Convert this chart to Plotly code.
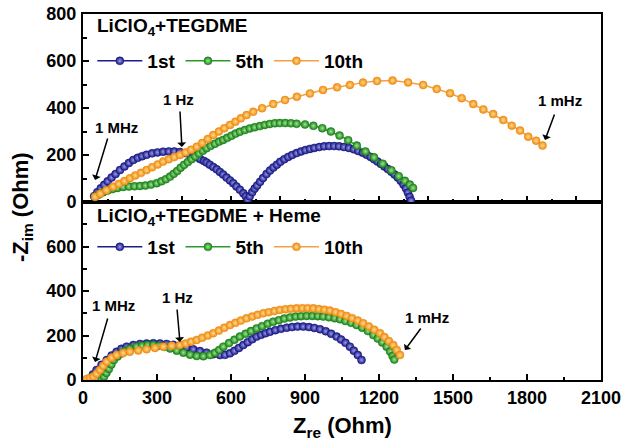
import plotly.graph_objects as go

# ---------------- data ----------------
series_names = ["1st", "5th", "10th"]

# top panel: LiClO4 + TEGDME
top_1st_x = [45, 58, 72, 86, 100, 116, 132, 150, 168, 186, 204, 222, 240, 258, 280, 302, 325, 348, 370, 393,
             415, 432, 447, 462, 476, 490, 501, 514, 528, 542, 555, 568, 582, 596, 609, 622, 636, 650, 660, 668,
             676, 686, 696, 706, 718, 730, 744, 758, 772, 786, 800, 816, 832, 848, 866, 884, 902, 920, 938, 958,
             978, 998, 1018, 1038, 1058, 1078, 1098, 1116, 1134, 1150, 1166, 1180, 1194, 1208, 1222, 1236, 1250,
             1263, 1276, 1288, 1299, 1309, 1317, 1324, 1330]
top_1st_y = [25, 42, 58, 73, 88, 104, 119, 136, 151, 166, 179, 188, 195, 201, 207, 211, 214, 215, 215, 213,
             208, 203, 197, 190, 182, 175, 168, 159, 149, 139, 128, 117, 104, 92, 80, 66, 52, 37, 24, 10,
             24, 42, 57, 70, 86, 102, 119, 134, 147, 159, 171, 182, 192, 200, 208, 215, 221, 226, 230, 234,
             237, 238, 238, 237, 234, 230, 224, 217, 210, 201, 192, 182, 172, 162, 151, 140, 129,
             117, 104, 90, 75, 58, 40, 22, 6]

top_5th_x = [49, 65, 82, 100, 120, 140, 163, 186, 209, 231, 253, 276, 299, 318, 336, 353, 368, 382, 396, 410,
             425, 440, 455, 470, 486, 501, 518, 535, 552, 568, 585, 602, 619, 636, 656, 676, 696, 717, 737, 757,
             778, 798, 820, 843, 866, 900, 934, 970, 1005, 1040, 1075, 1110, 1145, 1180, 1215, 1250, 1280, 1305,
             1325, 1338]
top_5th_y = [22, 32, 42, 49, 55, 60, 64, 66, 67, 68, 70, 74, 80, 88, 97, 108, 120, 132, 146, 158,
             170, 182, 194, 206, 218, 229, 239, 248, 257, 264, 273, 282, 291, 299, 306, 313, 318, 323, 328, 332,
             335, 336, 336, 335, 333, 330, 324, 314, 300, 283, 263, 240, 215, 190, 163, 135, 110, 90,
             74, 60]

top_10th_x = [49, 70, 95, 122, 145, 168, 190, 212, 235, 258, 280, 303, 325, 348, 370, 393, 416, 438, 461, 483,
              506, 528, 551, 573, 596, 618, 640, 663, 690, 726, 771, 819, 867, 920, 973, 1030, 1082, 1135, 1192,
              1255, 1318, 1379, 1434, 1488, 1535, 1582, 1623, 1663, 1704, 1738, 1772, 1805, 1837, 1863]
top_10th_y = [22, 35, 50, 65, 77, 89, 101, 113, 124, 136, 148, 160, 172, 182, 191, 200, 211, 222, 235, 251,
              268, 285, 300, 314, 328, 342, 356, 370, 384, 399, 417, 434, 448, 462, 477, 488, 498, 508, 515,
              517, 509, 498, 481, 463, 442, 417, 394, 374, 349, 325, 304, 278, 261, 240]

# bottom panel: LiClO4 + TEGDME + Heme
bot_1st_x = [28, 40, 55, 75, 96, 116, 136, 156, 177, 204, 231, 258, 285, 312, 339, 366, 393, 420, 447, 474,
             501, 528, 555, 576, 596, 614, 632, 650, 668, 686, 704, 722, 740, 758, 780, 803, 826, 848, 870, 893,
             916, 938, 961, 984, 1006, 1028, 1046, 1064, 1082, 1098, 1114, 1129]
bot_1st_y = [7, 25, 45, 68, 90, 110, 127, 140, 150, 157, 162, 164, 165, 164, 162, 158, 153, 146, 138, 130,
             123, 116, 112, 113, 120, 131, 144, 157, 170, 183, 195, 203, 210, 217, 224, 230, 235, 238, 240, 240,
             238, 234, 228, 219, 208, 195, 182, 167, 150, 132, 112, 90]

bot_5th_x = [75, 85, 95, 105, 115, 125, 140, 155, 170, 190, 217, 240, 262, 285, 308, 330, 353, 380, 407, 434,
             461, 488, 515, 535, 552, 569, 592, 614, 636, 659, 681, 704, 726, 749, 771, 794, 816, 839, 862, 884,
             907, 930, 952, 974, 997, 1020, 1042, 1064, 1087, 1109, 1132, 1155, 1177, 1195, 1213, 1231, 1245,
             1255, 1262]
bot_5th_y = [2, 15, 32, 50, 70, 90, 106, 119, 130, 140, 150, 154, 157, 157, 154, 149, 142, 132, 123, 114,
             108, 107, 112, 122, 135, 150, 166, 181, 195, 208, 220, 232, 242, 253, 262, 269, 276, 281, 285, 287,
             288, 288, 287, 285, 282, 278, 273, 265, 257, 247, 235, 220, 202, 186, 169, 150, 128,
             108, 92]

bot_10th_x = [15, 28, 42, 55, 69, 82, 96, 116, 136, 163, 190, 224, 258, 292, 326, 360, 393, 416, 438, 461,
              483, 506, 528, 551, 573, 596, 618, 640, 663, 686, 708, 731, 753, 776, 798, 821, 843, 866, 889, 911,
              934, 956, 979, 1001, 1024, 1046, 1069, 1091, 1114, 1136, 1159, 1181, 1204, 1222, 1240, 1258, 1272,
              1285]
bot_10th_y = [5, 9, 15, 28, 45, 64, 82, 100, 112, 121, 127, 133, 138, 144, 150, 154, 157, 164, 172, 180,
              190, 200, 210, 222, 235, 247, 257, 267, 277, 285, 293, 300, 305, 310, 315, 318, 320, 322, 323, 323,
              322, 319, 316, 312, 305, 297, 288, 278, 267, 255, 241, 226, 210, 193, 175, 157, 135,
              112]

x_ticks_bottom = [0, 300, 600, 900, 1200, 1500, 1800, 2100]
y_ticks_top = [0, 200, 400, 600, 800]
y_ticks_bottom = [0, 200, 400, 600]

# ---------------- style ----------------
FONT = "Arial, Liberation Sans, sans-serif"
edge_cols = ["#16167e", "#1a7f1a", "#ee8a12"]
center_cols = ["#9c9cf0", "#9ee88e", "#ffdc8c"]
line_cols = ["#1c1c8c", "#2a9a2a", "#f5a045"]

fig = go.Figure()

top_data = [(top_1st_x, top_1st_y), (top_5th_x, top_5th_y), (top_10th_x, top_10th_y)]
bot_data = [(bot_1st_x, bot_1st_y), (bot_5th_x, bot_5th_y), (bot_10th_x, bot_10th_y)]

def add_series(xs, ys, i, xa, ya, leg):
    fig.add_trace(go.Scatter(
        x=xs, y=ys, xaxis=xa, yaxis=ya, mode="lines+markers", name=series_names[i],
        legend=leg,
        line=dict(color=line_cols[i], width=1.5),
        marker=dict(size=8, color=edge_cols[i], line=dict(width=0.5, color=edge_cols[i]),
                    gradient=dict(type="radial", color=center_cols[i])),
    ))

for i, (xs, ys) in enumerate(top_data):
    add_series(xs, ys, i, "x2", "y2", "legend")
for i, (xs, ys) in enumerate(bot_data):
    add_series(xs, ys, i, "x", "y", "legend2")

PH = 366.0            # plot-area height in px (window rows 14..380)
split = 178 / PH

def py(v):            # window pixel row -> paper y
    return (380 - v) / PH

axis_common = dict(showline=True, linewidth=2, linecolor="black", mirror=True, ticks="inside",
                   ticklen=6, tickwidth=1.5, tickcolor="black", showgrid=False, zeroline=False,
                   automargin=False, ticklabeloverflow="allow",
                   tickfont=dict(family=FONT, size=18, color="black", weight="bold"))

fig.update_layout(
    width=627, height=448,
    margin=dict(l=83, r=26, t=14, b=68, autoexpand=False),
    paper_bgcolor="white", plot_bgcolor="white",
    font=dict(family=FONT, color="black"),
    showlegend=True,
    xaxis=dict(domain=[0, 1], range=[0, 2100], anchor="y", tickmode="array", tickvals=x_ticks_bottom,
               minor=dict(tickvals=[150, 450, 750, 1050, 1350, 1650, 1950], ticks="inside", ticklen=3.5,
                          tickwidth=1.5, tickcolor="black"),
               **axis_common),
    xaxis2=dict(domain=[0, 1], range=[0, 2100], anchor="y2", matches="x", dtick=200, tick0=0,
                showticklabels=False,
                minor=dict(dtick=100, ticks="inside", ticklen=3.5, tickwidth=1.5, tickcolor="black"),
                **axis_common),
    yaxis=dict(domain=[0, split], range=[0, 800], anchor="x", tickmode="array", tickvals=y_ticks_bottom,
               minor=dict(tickvals=[100, 300, 500, 700], ticks="inside", ticklen=3.5, tickwidth=1.5,
                          tickcolor="black"),
               ticklabelstandoff=1,
               **axis_common),
    yaxis2=dict(domain=[split, 1], range=[0, 800], anchor="x2", tickmode="array", tickvals=y_ticks_top,
                minor=dict(dtick=100, ticks="inside", ticklen=3.5, tickwidth=1.5, tickcolor="black"),
                ticklabelstandoff=1,
                **axis_common),
    legend=dict(x=0.018, y=py(61), xanchor="left", yanchor="middle", orientation="h",
                bgcolor="rgba(0,0,0,0)", itemwidth=45,
                font=dict(family=FONT, size=19, color="black", weight="bold")),
    legend2=dict(x=0.018, y=py(247), xanchor="left", yanchor="middle", orientation="h",
                 bgcolor="rgba(0,0,0,0)", itemwidth=45,
                 font=dict(family=FONT, size=19, color="black", weight="bold")),
)

ann_font = dict(family=FONT, size=15, color="black", weight="bold")
title_font = dict(family=FONT, size=19, color="black", weight="bold")

anns = [
    # panel titles
    dict(text="<b>LiClO<sub>4</sub>+TEGDME</b>", x=49, y=745, xref="x2", yref="y2",
         xanchor="left", yanchor="middle", showarrow=False, font=title_font),
    dict(text="<b>LiClO<sub>4</sub>+TEGDME + Heme</b>", x=49, y=733, xref="x", yref="y",
         xanchor="left", yanchor="middle", showarrow=False, font=title_font),
    # top labels
    dict(text="<b>1 MHz</b>", x=134, y=315, xref="x2", yref="y2", showarrow=False, font=ann_font),
    dict(text="<b>1 Hz</b>", x=389, y=438, xref="x2", yref="y2", showarrow=False, font=ann_font),
    dict(text="<b>1 mHz</b>", x=1933, y=430, xref="x2", yref="y2", showarrow=False, font=ann_font),
    # bottom labels
    dict(text="<b>1 MHz</b>", x=122, y=337, xref="x", yref="y", showarrow=False, font=ann_font),
    dict(text="<b>1 Hz</b>", x=385, y=369, xref="x", yref="y", showarrow=False, font=ann_font),
    dict(text="<b>1 mHz</b>", x=1394, y=283, xref="x", yref="y", showarrow=False, font=ann_font),
    # axis titles
    dict(text="<b>Z<sub>re</sub> (Ohm)</b>", x=0.5, y=py(427), xref="paper", yref="paper",
         xanchor="center", yanchor="middle", showarrow=False, font=dict(family=FONT, size=22, color="black")),
    dict(text="<b>-Z<sub>im</sub> (Ohm)</b>", x=(22 - 83) / 518, y=py(207), xref="paper",
         yref="paper", xanchor="center", yanchor="middle", textangle=-90, showarrow=False,
         font=dict(family=FONT, size=22, color="black")),
]

arrows = [
    ("x2", "y2", 49, 94, 13, -43),
    ("x2", "y2", 401, 234, -2, -37),
    ("x2", "y2", 1873, 264, 10, -27),
    ("x", "y", 49, 81, 13, -45),
    ("x", "y", 393, 171, -3, -34),
    ("x", "y", 1305, 135, 17, -23),
]
for xr, yr, hx, hy, ax, ay in arrows:
    anns.append(dict(text="", x=hx, y=hy, xref=xr, yref=yr, ax=ax, ay=ay, showarrow=True,
                     arrowhead=1, arrowsize=1, arrowwidth=1.5, arrowcolor="black", standoff=0))

fig.update_layout(annotations=anns)

# remove the browser's default 8px page margin so the figure fills the window exactly;
# hide the hover toolbar so it never covers the plot
fig.write_html("out.html", config={"displayModeBar": False},
               post_script="document.body.style.margin='0';")
